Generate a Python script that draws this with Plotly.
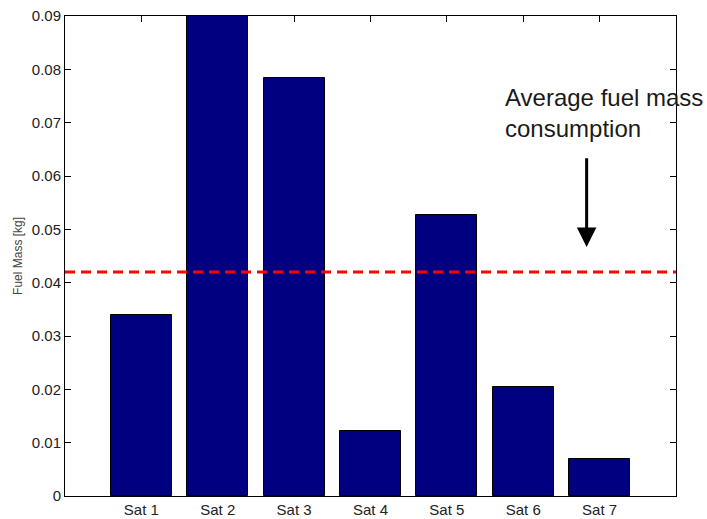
import plotly.graph_objects as go

categories = ["Sat 1", "Sat 2", "Sat 3", "Sat 4", "Sat 5", "Sat 6", "Sat 7"]
positions = [1, 2, 3, 4, 5, 6, 7]
fuel_mass = [0.0339, 0.0900, 0.0783, 0.0121, 0.0526, 0.0205, 0.0069]
avg_fuel = 0.0420
y_ticks = [0, 0.01, 0.02, 0.03, 0.04, 0.05, 0.06, 0.07, 0.08, 0.09]
y_tick_labels = ["0", "0.01", "0.02", "0.03", "0.04", "0.05", "0.06", "0.07", "0.08", "0.09"]
arrow_x = 6.83
arrow_y_start = 0.0636
arrow_y_end = 0.0467

FONT = "Liberation Sans, Arial, sans-serif"

fig = go.Figure()
fig.add_trace(go.Bar(
    x=positions, y=fuel_mass, width=0.8,
    marker=dict(color="#000080", line=dict(color="#000000", width=1)),
    showlegend=False,
))
fig.add_trace(go.Scatter(
    x=[0, 8], y=[avg_fuel, avg_fuel], mode="lines",
    line=dict(color="#ff0000", width=3, dash="10px,6px"),
    showlegend=False,
))

fig.add_annotation(
    x=arrow_x, y=arrow_y_end, ax=arrow_x, ay=arrow_y_start,
    xref="x", yref="y", axref="x", ayref="y",
    showarrow=True, arrowhead=2, arrowsize=1.3, arrowwidth=3,
    arrowcolor="#000000", text="",
)
fig.add_annotation(
    x=5.735, y=0.0718, xref="x", yref="y",
    text="Average fuel mass<br>consumption", showarrow=False,
    xanchor="left", yanchor="middle", align="left",
    font=dict(family=FONT, size=24, color="#1a1a1a"),
)
fig.add_annotation(
    x=-0.077, y=0.5, xref="paper", yref="paper",
    text="Fuel Mass [kg]", showarrow=False, textangle=-90,
    xanchor="center", yanchor="middle",
    font=dict(family=FONT, size=12, color="#444444"),
)

axis_common = dict(
    showline=True, linecolor="#000000", linewidth=1, mirror="allticks",
    ticks="inside", ticklen=6, tickcolor="#000000", tickwidth=1,
    showgrid=False, zeroline=False, layer="below traces", automargin=False,
    tickfont=dict(family=FONT, size=15, color="#222222"),
)

fig.update_layout(
    width=707, height=519,
    margin=dict(l=65, r=31, t=16, b=23, autoexpand=False),
    paper_bgcolor="#ffffff", plot_bgcolor="#ffffff",
    xaxis=dict(range=[0, 8], tickvals=positions, ticktext=categories, **axis_common),
    yaxis=dict(range=[0, 0.09], tickvals=y_ticks, ticktext=y_tick_labels, **axis_common),
    bargap=0,
)

fig.write_html("out.html")
